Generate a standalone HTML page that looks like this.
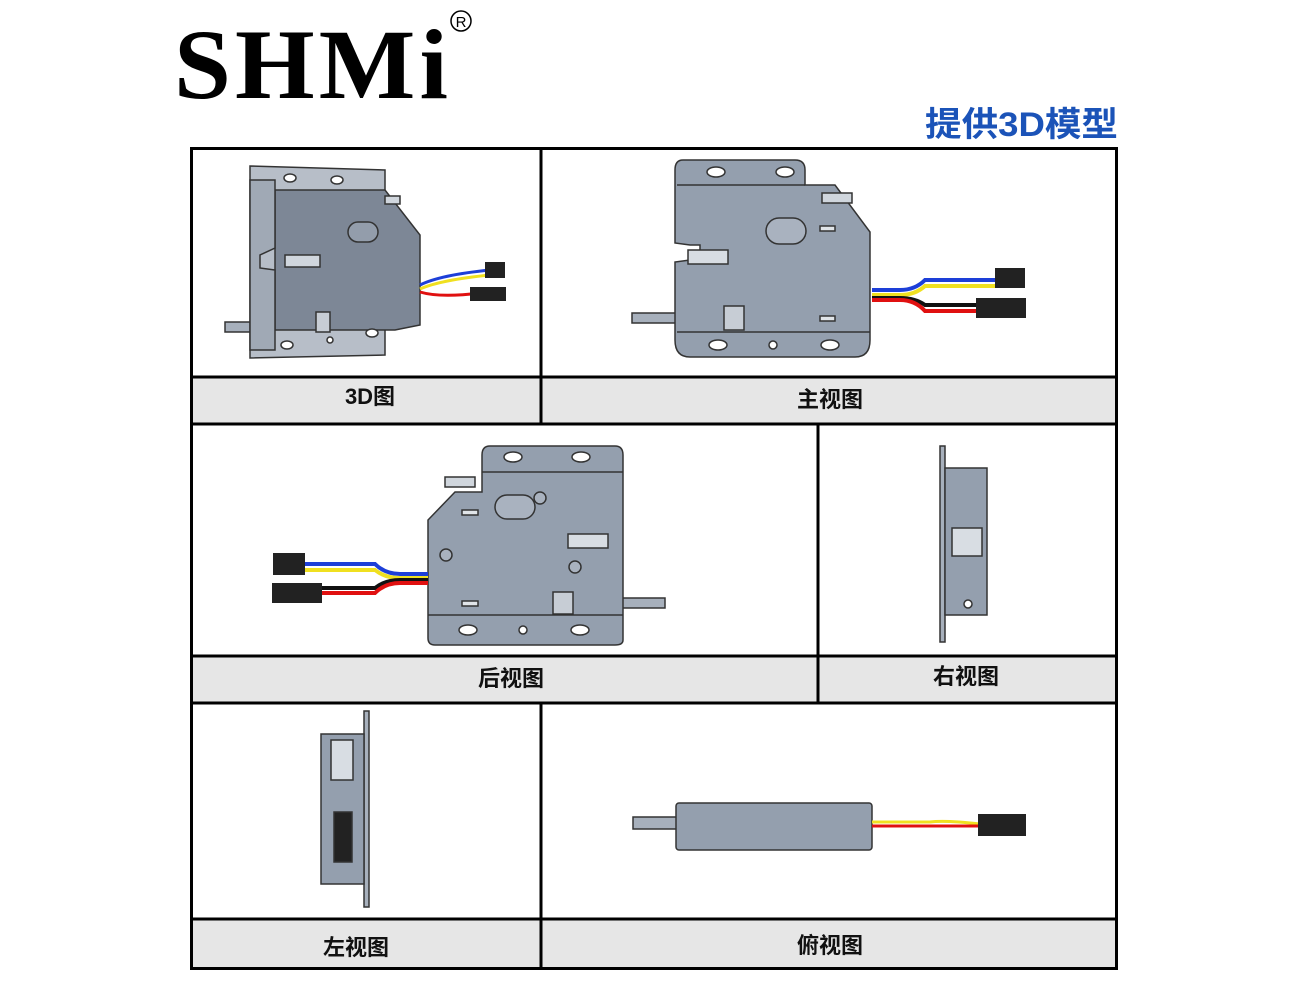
<!DOCTYPE html>
<html><head><meta charset="utf-8"><style>
body{margin:0;background:#fff;width:1309px;height:1000px;overflow:hidden;position:relative;font-family:"Liberation Sans","Noto Sans CJK SC",sans-serif}
.a{position:absolute}
</style></head><body>
<svg class="a" style="left:0;top:0" width="1309" height="1000" viewBox="0 0 1309 1000">
<!-- logo -->
<text x="174" y="98" font-family="Liberation Serif,serif" font-weight="bold" font-size="100" letter-spacing="4" fill="#000" textLength="278" lengthAdjust="spacingAndGlyphs">SHMi</text>
<circle cx="461" cy="21" r="10" fill="none" stroke="#000" stroke-width="1.5"/>
<text x="461" y="27" font-size="15" text-anchor="middle" font-family="Liberation Sans,sans-serif">R</text>
<text x="1118" y="136" text-anchor="end" font-family="Liberation Sans,'Noto Sans CJK SC',sans-serif" font-weight="bold" font-size="34" fill="#1b53b8" textLength="193" lengthAdjust="spacingAndGlyphs">提供3D模型</text>

<!-- label bands -->
<rect x="191" y="377" width="926" height="47" fill="#e6e6e6"/>
<rect x="191" y="657" width="926" height="46" fill="#e6e6e6"/>
<rect x="191" y="919" width="926" height="50" fill="#e6e6e6"/>
<!-- grid -->
<g stroke="#000" stroke-width="3" fill="none">
<rect x="191.5" y="148.5" width="925" height="820"/>
<line x1="191" y1="377" x2="1117" y2="377"/>
<line x1="191" y1="424" x2="1117" y2="424"/>
<line x1="191" y1="656" x2="1117" y2="656"/>
<line x1="191" y1="703" x2="1117" y2="703"/>
<line x1="191" y1="919" x2="1117" y2="919"/>
<line x1="541" y1="148" x2="541" y2="424"/>
<line x1="818" y1="424" x2="818" y2="703"/>
<line x1="541" y1="703" x2="541" y2="969"/>
</g>
<g font-family="Liberation Sans,'Noto Sans CJK SC',sans-serif" font-weight="bold" font-size="22" text-anchor="middle" fill="#111">
<text x="370" y="404">3D图</text>
<text x="830" y="407">主视图</text>
<text x="511" y="686">后视图</text>
<text x="966" y="684">右视图</text>
<text x="356" y="955">左视图</text>
<text x="830" y="953">俯视图</text>
</g>

<!-- main view -->
<g stroke="#333" stroke-width="1.5">
<rect x="632" y="313" width="45" height="10" fill="#a7b0bc"/>
<path d="M683 160 H795 Q805 160 805 170 V185 H835 L870 232 V340 Q870 357 855 357 H690 Q675 357 675 340 V262 L690 260 H700 V245 H690 L675 243 V170 Q675 160 683 160Z" fill="#949fae"/>
<line x1="677" y1="185" x2="805" y2="185"/><line x1="677" y1="332" x2="870" y2="332"/>
<rect x="822" y="193" width="30" height="10" fill="#d0d6dd"/>
<rect x="688" y="250" width="40" height="14" fill="#d8dde3"/>
<rect x="766" y="218" width="40" height="26" rx="13" fill="#a9b2bf"/>
<rect x="724" y="306" width="20" height="24" fill="#c7cdd5"/>
<rect x="820" y="226" width="15" height="5" fill="#e0e4e8"/>
<rect x="820" y="316" width="15" height="5" fill="#e0e4e8"/>
<ellipse cx="716" cy="172" rx="9" ry="5" fill="#fff"/><ellipse cx="785" cy="172" rx="9" ry="5" fill="#fff"/>
<ellipse cx="718" cy="345" rx="9" ry="5" fill="#fff"/><circle cx="773" cy="345" r="4" fill="#fff"/><ellipse cx="830" cy="345" rx="9" ry="5" fill="#fff"/>
</g>
<g fill="none" stroke-width="4">
<path d="M872 290 H900 Q915 290 925 280 H995" stroke="#1d3fd8"/>
<path d="M872 295 H900 Q915 295 925 286 H995" stroke="#f0e020"/>
<path d="M872 298 H900 Q915 298 925 305 H980" stroke="#111"/>
<path d="M872 300 H900 Q915 300 925 311 H980" stroke="#e01010"/>
</g>
<rect x="995" y="268" width="30" height="20" fill="#222"/><rect x="976" y="298" width="50" height="20" fill="#222"/>

<!-- 3D view -->
<g stroke="#333" stroke-width="1.5">
<rect x="225" y="322" width="40" height="10" fill="#a7b0bc"/>
<path d="M250 166 L385 170 V355 L250 358Z" fill="#b7bec8"/>
<path d="M275 190 H385 L420 235 V325 L395 330 H275Z" fill="#7d8796"/>
<path d="M250 180 H275 V248 L260 255 V268 L275 270 V350 H250Z" fill="#a0a9b5"/>
<rect x="285" y="255" width="35" height="12" fill="#d0d6dd"/>
<rect x="348" y="222" width="30" height="20" rx="10" fill="#939dab"/>
<rect x="316" y="312" width="14" height="20" fill="#c7cdd5"/>
<rect x="385" y="196" width="15" height="8" fill="#d0d6dd"/>
<ellipse cx="290" cy="178" rx="6" ry="4" fill="#fff"/><ellipse cx="337" cy="180" rx="6" ry="4" fill="#fff"/>
<ellipse cx="287" cy="345" rx="6" ry="4" fill="#fff"/><circle cx="330" cy="340" r="3" fill="#fff"/><ellipse cx="372" cy="333" rx="6" ry="4" fill="#fff"/>
</g>
<g fill="none" stroke-width="3">
<path d="M420 285 Q440 275 490 270" stroke="#1d3fd8"/><path d="M420 289 Q440 280 490 275" stroke="#f0e020"/>
<path d="M420 292 Q440 298 480 293" stroke="#e01010"/>
</g>
<rect x="485" y="262" width="20" height="16" fill="#222"/><rect x="470" y="287" width="36" height="14" fill="#222"/>

<!-- rear view -->
<g stroke="#333" stroke-width="1.5">
<rect x="620" y="598" width="45" height="10" fill="#a7b0bc"/>
<path d="M490 446 H615 Q623 446 623 455 V640 Q623 645 615 645 H435 Q428 645 428 638 V520 L455 492 H482 V455 Q482 446 490 446Z" fill="#949fae"/>
<line x1="482" y1="472" x2="623" y2="472"/><line x1="428" y1="615" x2="623" y2="615"/>
<rect x="445" y="477" width="30" height="10" fill="#d0d6dd"/>
<rect x="568" y="534" width="40" height="14" fill="#d8dde3"/>
<rect x="495" y="495" width="40" height="24" rx="12" fill="#a9b2bf"/>
<rect x="553" y="592" width="20" height="22" fill="#c7cdd5"/>
<circle cx="540" cy="498" r="6" fill="#a9b2bf"/><circle cx="446" cy="555" r="6" fill="#a9b2bf"/><circle cx="575" cy="567" r="6" fill="#a9b2bf"/>
<rect x="462" y="510" width="16" height="5" fill="#e0e4e8"/><rect x="462" y="601" width="16" height="5" fill="#e0e4e8"/>
<ellipse cx="513" cy="457" rx="9" ry="5" fill="#fff"/><ellipse cx="581" cy="457" rx="9" ry="5" fill="#fff"/>
<ellipse cx="468" cy="630" rx="9" ry="5" fill="#fff"/><circle cx="523" cy="630" r="4" fill="#fff"/><ellipse cx="580" cy="630" rx="9" ry="5" fill="#fff"/>
</g>
<g fill="none" stroke-width="4">
<path d="M428 574 H400 Q385 574 375 564 H305" stroke="#1d3fd8"/><path d="M428 578 H400 Q385 578 375 570 H305" stroke="#f0e020"/>
<path d="M428 580 H400 Q385 580 375 588 H320" stroke="#111"/><path d="M428 583 H400 Q385 583 375 593 H320" stroke="#e01010"/>
</g>
<rect x="273" y="553" width="32" height="22" fill="#222"/><rect x="272" y="583" width="50" height="20" fill="#222"/>

<!-- right view -->
<g stroke="#333" stroke-width="1.5">
<rect x="940" y="446" width="5" height="196" fill="#a7b0bc"/>
<rect x="945" y="468" width="42" height="147" fill="#949fae"/>
<rect x="952" y="528" width="30" height="28" fill="#d8dde3"/>
<circle cx="968" cy="604" r="4" fill="#fff"/>
</g>

<!-- left view -->
<g stroke="#333" stroke-width="1.5">
<rect x="364" y="711" width="5" height="196" fill="#a7b0bc"/>
<rect x="321" y="734" width="43" height="150" fill="#949fae"/>
<rect x="331" y="740" width="22" height="40" fill="#d8dde3"/>
<rect x="334" y="812" width="18" height="50" fill="#222"/>
</g>

<!-- top view -->
<g stroke="#333" stroke-width="1.5">
<rect x="633" y="817" width="45" height="12" fill="#a7b0bc"/>
<rect x="676" y="803" width="196" height="47" rx="3" fill="#949fae"/>
</g>
<path d="M872 822 H930 Q945 820 980 824" stroke="#f0e020" stroke-width="3" fill="none"/>
<path d="M872 826 H980" stroke="#e01010" stroke-width="3" fill="none"/>
<rect x="978" y="814" width="48" height="22" fill="#222"/>
</svg>
</body></html>
